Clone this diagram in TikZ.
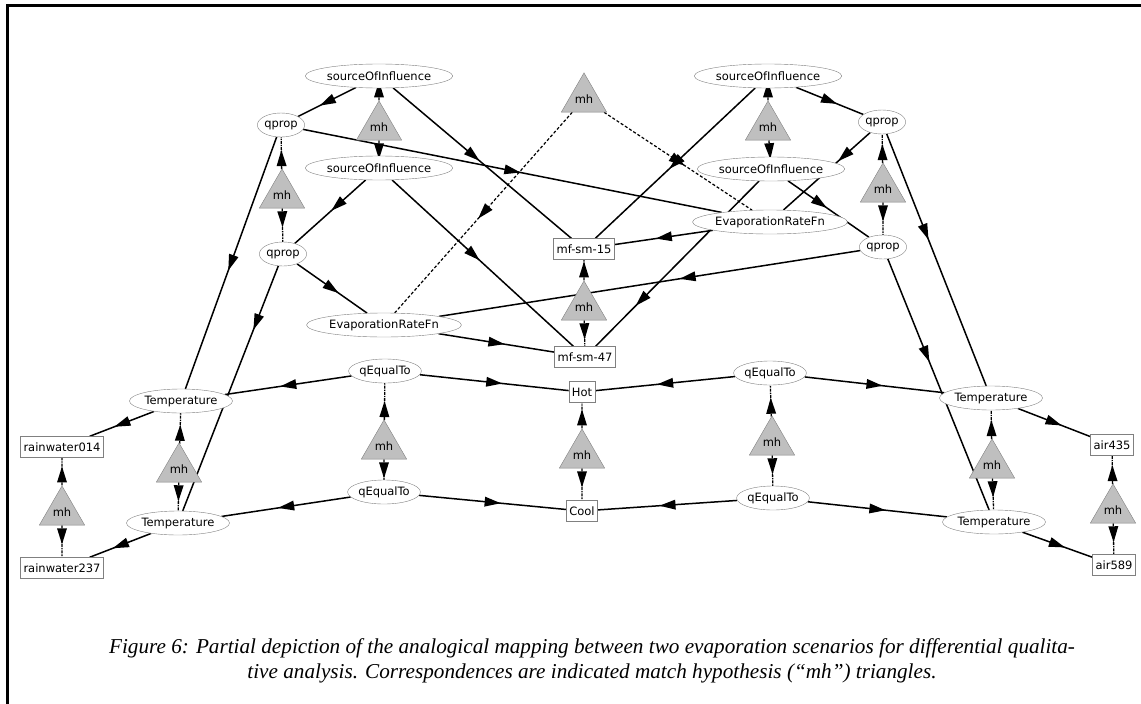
\documentclass[tikz,border=0pt]{standalone}
\usepackage{fontspec}
\newfontfamily\graphfont{DejaVu Sans}
\newfontfamily\capfont{Liberation Serif}
\usetikzlibrary{shapes.geometric,decorations.markings,backgrounds}
\begin{document}
\begin{tikzpicture}[x=1pt,y=-1pt,
  every node/.append style={font=\graphfont\fontsize{11.5}{12}\selectfont},
  oval/.style={ellipse,draw=gray,fill=white,inner sep=0pt,minimum height=24pt},
  box/.style={rectangle,draw=gray,fill=white,inner xsep=3pt,inner ysep=0pt,minimum height=21pt},
  mhtri/.style={regular polygon,regular polygon sides=3,minimum size=44pt,inner sep=0pt,draw=gray,fill=gray!50},
  head/.style={postaction={decorate,decoration={markings,mark=at position #1 with {\fill (8pt,0pt) -- (-8pt,5pt) -- (-8pt,-5pt) -- cycle;}}}},
  link/.style={line width=1.5pt,head=#1},
  link/.default=0.5,
  mhlink/.style={line width=1.3pt,densely dashdotted,head=11pt},
  farlink/.style={line width=1.2pt,densely dashed,head=0.5}]
\useasboundingbox (0,0) rectangle (1141,704);
\draw[line width=3pt] (7,704) -- (7,5) -- (1141,5);

% upper part
\node[oval] (soiA) at (379,76) {sourceOfInfluence};
\node[oval] (qpA) at (281,125) {qprop};
\node[oval] (soiB) at (379,168) {sourceOfInfluence};
\node[oval] (qpB) at (283,254) {qprop};
\node[oval] (evA) at (384,325) {EvaporationRateFn};
\node[box] (mf15) at (584,249) {mf-sm-15};
\node[box] (mf47) at (585,357) {mf-sm-47};
\node[oval] (soiC) at (768,76) {sourceOfInfluence};
\node[oval] (qpC) at (882,122) {qprop};
\node[oval] (soiD) at (771,169) {sourceOfInfluence};
\node[oval] (evB) at (770,222) {EvaporationRateFn};
\node[oval] (qpD) at (883,247) {qprop};
\node[mhtri] (mhEv) at (584,99) {mh};
\node[mhtri] (mhSoiL) at (379,127) {mh};
\node[mhtri] (mhQpL) at (282,195) {mh};
\node[mhtri] (mhSoiR) at (768,127) {mh};
\node[mhtri] (mhQpR) at (883,189) {mh};
\node[mhtri] (mhMf) at (584,307) {mh};

% lower part
\node[oval] (tempA) at (181,401) {Temperature};
\node[oval] (tempB) at (178,523) {Temperature};
\node[box] (rainA) at (62,447) {rainwater014};
\node[box] (rainB) at (62,568) {rainwater237};
\node[oval] (qeA) at (385,371) {qEqualTo};
\node[oval] (qeB) at (384,492) {qEqualTo};
\node[box] (hot) at (582,392) {Hot};
\node[box] (cool) at (582,511) {Cool};
\node[oval] (qeC) at (770,373) {qEqualTo};
\node[oval] (qeD) at (773,498) {qEqualTo};
\node[oval] (tempC) at (991,398) {Temperature};
\node[oval] (tempD) at (994,522) {Temperature};
\node[box] (airA) at (1112,445) {air435};
\node[box] (airB) at (1114,565) {air589};
\node[mhtri] (mhRain) at (62,512) {mh};
\node[mhtri] (mhTempL) at (179,469) {mh};
\node[mhtri] (mhQeL) at (384,446) {mh};
\node[mhtri] (mhHC) at (582,455) {mh};
\node[mhtri] (mhQeR) at (772,442) {mh};
\node[mhtri] (mhTempR) at (992,465) {mh};
\node[mhtri] (mhAir) at (1113,510) {mh};

\node[font=\capfont\itshape\fontsize{21.2}{25}\selectfont] (capA) at (592,648) {Figure 6: Partial depiction of the analogical mapping between two evaporation scenarios for differential qualita-};
\node[font=\capfont\itshape\fontsize{21.2}{25}\selectfont] (capB) at (592,673) {tive analysis. Correspondences are indicated match hypothesis (“mh”) triangles.};

\begin{scope}[on background layer]
\draw[link] (soiA) -- (qpA);
\draw[link=0.45] (soiA) -- (mf15);
\draw[link] (qpA) -- (evB);
\draw[link] (qpA) -- (tempA);
\draw[link=0.4] (soiB) -- (qpB);
\draw[link=0.45] (soiB) -- (mf47);
\draw[link] (qpB) -- (evA);
\draw[link=0.23] (qpB) -- (tempB);
\draw[link] (soiC) -- (qpC);
\draw[link] (soiC) -- (mf15);
\draw[link=0.3] (qpC) -- (evB);
\draw[link=0.4] (soiD) -- (qpD);
\draw[link=0.72] (soiD) -- (mf47);
\draw[link] (evB) -- (mf15);
\draw[link=0.41] (qpD) -- (evA);
\draw[link] (evA) -- (mf47);
\draw[link=0.39] (qpC) -- (tempC);
\draw[link=0.38] (qpD) -- (tempD);
\draw[link] (qeA) -- (tempA);
\draw[link] (qeA) -- (hot);
\draw[link] (tempA) -- (rainA);
\draw[link] (qeB) -- (tempB);
\draw[link] (qeB) -- (cool);
\draw[link] (tempB) -- (rainB);
\draw[link] (qeC) -- (hot);
\draw[link] (qeC) -- (tempC);
\draw[link] (tempC) -- (airA);
\draw[link] (qeD) -- (cool);
\draw[link] (qeD) -- (tempD);
\draw[link] (tempD) -- (airB);
\draw[farlink] (mhEv) -- (evA);
\draw[farlink] (mhEv) -- (evB);
\draw[mhlink] (mhSoiL) -- (soiA);
\draw[mhlink] (mhSoiL) -- (soiB);
\draw[mhlink] (mhQpL) -- (qpA);
\draw[mhlink] (mhQpL) -- (qpB);
\draw[mhlink] (mhSoiR) -- (soiC);
\draw[mhlink] (mhSoiR) -- (soiD);
\draw[mhlink] (mhQpR) -- (qpC);
\draw[mhlink] (mhQpR) -- (qpD);
\draw[mhlink] (mhMf) -- (mf15);
\draw[mhlink] (mhMf) -- (mf47);
\draw[mhlink] (mhRain) -- (rainA);
\draw[mhlink] (mhRain) -- (rainB);
\draw[mhlink] (mhTempL) -- (tempA);
\draw[mhlink] (mhTempL) -- (tempB);
\draw[mhlink] (mhQeL) -- (qeA);
\draw[mhlink] (mhQeL) -- (qeB);
\draw[mhlink] (mhHC) -- (hot);
\draw[mhlink] (mhHC) -- (cool);
\draw[mhlink] (mhQeR) -- (qeC);
\draw[mhlink] (mhQeR) -- (qeD);
\draw[mhlink] (mhTempR) -- (tempC);
\draw[mhlink] (mhTempR) -- (tempD);
\draw[mhlink] (mhAir) -- (airA);
\draw[mhlink] (mhAir) -- (airB);
\end{scope}
\end{tikzpicture}
\end{document}
